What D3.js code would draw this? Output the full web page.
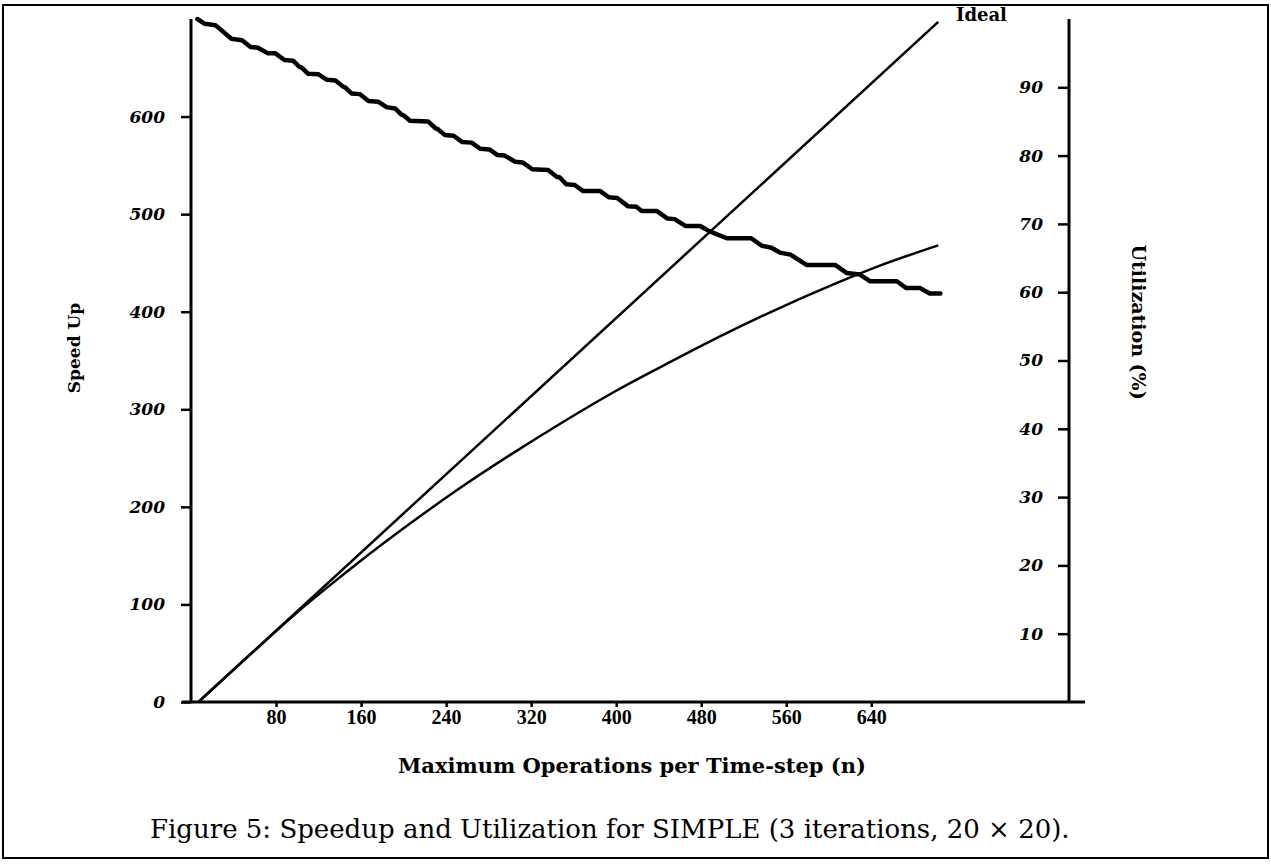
<!DOCTYPE html>
<html>
<head>
<meta charset="utf-8">
<script src="https://cdn.jsdelivr.net/npm/d3@7"></script>
<style>
  body { margin: 0; background: #fff; }
  text { fill: #000; }
</style>
</head>
<body>
<script>
// tick labels
var xTicks = [80, 160, 240, 320, 400, 480, 560, 640];
var speedTicks = [0, 100, 200, 300, 400, 500, 600];
var utilTicks = [10, 20, 30, 40, 50, 60, 70, 80, 90];

// [n, speed up]
var ideal = [[7, 0], [703, 697]];
var speedup = [[7, 0], [60, 53], [100, 92], [130, 119], [160, 145], [200, 178], [250, 217],
  [300, 253], [350, 287], [400, 319], [450, 348], [500, 376], [550, 402], [600, 426], [650, 448], [703, 468]];

// [n, utilization %]
var utilization = [[6, 100], [13, 99.3], [23, 99.1], [38, 97.1], [48, 96.9], [56, 95.9], [63, 95.8],
  [72, 95.0], [79, 95.0], [88, 94.0], [96, 93.9], [102, 93.0], [104, 92.9], [110, 92.0], [120, 91.9],
  [128, 91.1], [136, 91.0], [143, 90.1], [145, 90.0], [151, 89.1], [159, 89.0], [167, 88.0], [176, 87.9],
  [184, 87.1], [192, 86.9], [198, 86.0], [200, 85.9], [206, 85.1], [223, 85.0], [230, 84.0], [232, 83.9],
  [239, 83.0], [247, 82.9], [255, 82.0], [264, 81.9], [272, 81.0], [281, 80.9], [288, 80.1], [295, 80.0],
  [305, 79.1], [312, 79.0], [321, 78.0], [336, 77.9], [344, 76.9], [347, 76.8], [353, 75.8], [361, 75.7],
  [369, 74.8], [385, 74.8], [393, 73.9], [401, 73.8], [411, 72.6], [419, 72.5], [424, 71.9], [438, 71.9],
  [448, 70.8], [455, 70.7], [465, 69.7], [479, 69.7], [488, 68.9], [504, 67.9], [527, 67.9], [537, 66.8],
  [546, 66.5], [554, 65.8], [564, 65.5], [579, 64.0], [606, 64.0], [617, 62.8], [629, 62.6], [639, 61.6],
  [664, 61.6], [673, 60.6], [686, 60.6], [695, 59.8], [705, 59.8]];

var width = 1271, height = 864,
    plotLeft = 191, plotRight = 1069, plotTop = 19, plotBottom = 702;

var svg = d3.select("body").append("svg")
    .attr("width", width)
    .attr("height", height);

var x = d3.scaleLinear().domain([0, 826]).range([plotLeft, plotRight]);
var ySpeed = d3.scaleLinear().domain([0, 700]).range([plotBottom, plotTop]);
var yUtil = d3.scaleLinear().domain([0, 100]).range([plotBottom, plotTop]);

// page frame
svg.append("rect")
    .attr("x", 3).attr("y", 5)
    .attr("width", 1265).attr("height", 853)
    .attr("fill", "none")
    .attr("stroke", "#000")
    .attr("stroke-width", 2);

// left axis (speed up)
var gLeft = svg.append("g")
    .attr("transform", "translate(" + plotLeft + ",0)")
    .call(d3.axisLeft(ySpeed).tickValues(speedTicks).tickSize(10).tickPadding(16).tickSizeOuter(0));

// right axis (utilization), ticks point inward
var gRight = svg.append("g")
    .attr("transform", "translate(" + plotRight + ",0)")
    .call(d3.axisLeft(yUtil).tickValues(utilTicks).tickSize(11).tickPadding(15).tickSizeOuter(0));

// bottom axis
var gBottom = svg.append("g")
    .attr("transform", "translate(0," + plotBottom + ")")
    .call(d3.axisBottom(x).tickValues(xTicks).tickSize(5).tickPadding(3).tickSizeOuter(0));

[gLeft, gRight, gBottom].forEach(function (g) {
    g.select(".domain").remove();
    g.selectAll(".tick line").attr("stroke", "#000").attr("stroke-width", 2.5);
});

gLeft.selectAll(".tick text")
    .style("font-family", "'DejaVu Serif'")
    .style("font-size", "17px")
    .style("font-weight", "bold")
    .style("font-style", "italic");

gRight.selectAll(".tick text")
    .style("font-family", "'DejaVu Serif'")
    .style("font-size", "17px")
    .style("font-weight", "bold")
    .style("font-style", "italic");

gBottom.selectAll(".tick text")
    .style("font-family", "'Liberation Serif'")
    .style("font-size", "20px")
    .style("font-weight", "bold");

// axis lines
svg.append("line")
    .attr("x1", plotLeft).attr("x2", plotLeft)
    .attr("y1", plotTop).attr("y2", plotBottom)
    .attr("stroke", "#000").attr("stroke-width", 3);
svg.append("line")
    .attr("x1", plotRight).attr("x2", plotRight)
    .attr("y1", plotTop).attr("y2", plotBottom)
    .attr("stroke", "#000").attr("stroke-width", 3);
svg.append("line")
    .attr("x1", plotLeft - 9).attr("x2", plotRight + 16)
    .attr("y1", plotBottom).attr("y2", plotBottom)
    .attr("stroke", "#000").attr("stroke-width", 3);

var speedLine = d3.line()
    .x(function (d) { return x(d[0]); })
    .y(function (d) { return ySpeed(d[1]); })
    .curve(d3.curveMonotoneX);

var utilLine = d3.line()
    .x(function (d) { return x(d[0]); })
    .y(function (d) { return yUtil(d[1]); });

svg.append("path")
    .attr("d", speedLine(ideal))
    .attr("fill", "none")
    .attr("stroke", "#000")
    .attr("stroke-width", 2.5);

svg.append("path")
    .attr("d", speedLine(speedup))
    .attr("fill", "none")
    .attr("stroke", "#000")
    .attr("stroke-width", 2.5)
    .attr("stroke-linejoin", "round");

svg.append("path")
    .attr("d", utilLine(utilization))
    .attr("fill", "none")
    .attr("stroke", "#000")
    .attr("stroke-width", 4.5)
    .attr("stroke-linejoin", "round")
    .attr("stroke-linecap", "round");

// labels
svg.append("text")
    .attr("x", 956)
    .attr("y", 21)
    .style("font-family", "'DejaVu Serif'")
    .style("font-size", "18px")
    .style("font-weight", "bold")
    .text("Ideal");

svg.append("text")
    .attr("transform", "translate(80,348) rotate(-90)")
    .attr("text-anchor", "middle")
    .style("font-family", "'DejaVu Serif'")
    .style("font-size", "17px")
    .style("font-weight", "bold")
    .text("Speed Up");

svg.append("text")
    .attr("transform", "translate(1132,322) rotate(90)")
    .attr("text-anchor", "middle")
    .style("font-family", "'DejaVu Serif'")
    .style("font-size", "19px")
    .style("font-weight", "bold")
    .text("Utilization (%)");

svg.append("text")
    .attr("x", 632)
    .attr("y", 773)
    .attr("text-anchor", "middle")
    .style("font-family", "'DejaVu Serif'")
    .style("font-size", "21px")
    .style("font-weight", "bold")
    .text("Maximum Operations per Time-step (n)");

svg.append("text")
    .attr("x", 150)
    .attr("y", 838)
    .style("font-family", "'DejaVu Serif'")
    .style("font-size", "26px")
    .text("Figure 5: Speedup and Utilization for SIMPLE (3 iterations, 20 \u00d7 20).");
</script>
</body>
</html>
